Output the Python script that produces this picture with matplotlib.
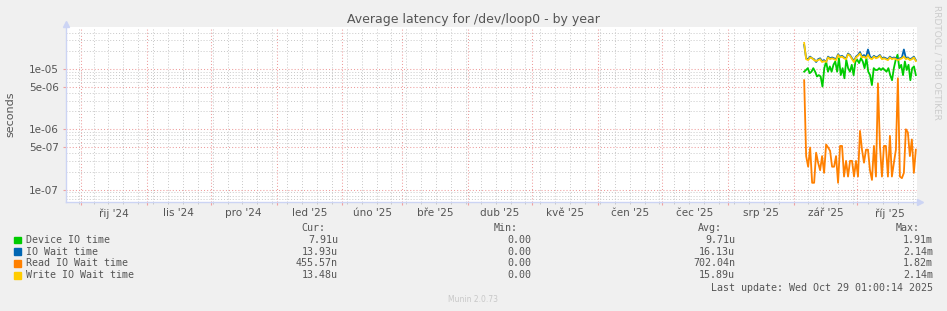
import matplotlib
matplotlib.use("Agg")
import matplotlib.pyplot as plt
import matplotlib.dates as mdates
from matplotlib.ticker import FixedLocator, NullFormatter
import numpy as np
import pandas as pd

title = "Average latency for /dev/loop0 - by year"
t_start = pd.Timestamp("2024-09-24 01:00")
t_end = pd.Timestamp("2025-10-29 01:00")
data_start = pd.Timestamp("2025-09-06")
data_end = pd.Timestamp("2025-10-28 12:00")

month_starts = ["2024-10-01", "2024-11-01", "2024-12-01", "2025-01-01", "2025-02-01",
                "2025-03-01", "2025-04-01", "2025-05-01", "2025-06-01", "2025-07-01",
                "2025-08-01", "2025-09-01", "2025-10-01", "2025-11-01"]
month_labels = ["řij '24", "lis '24", "pro '24", "led '25", "úno '25", "bře '25", "dub '25",
                "kvě '25", "čen '25", "čec '25", "srp '25", "zář '25", "říj '25"]

y_ticks = [1e-7, 5e-7, 1e-6, 5e-6, 1e-5]
y_tick_labels = ["1e-07", "5e-07", "1e-06", "5e-06", "1e-05"]

# values in microseconds
device = [9.0, 9.6, 10.3, 8.5, 9.0, 10.3, 9.0, 7.5, 7.9, 7.5, 5.1, 10.3, 13.3, 9.0, 11.0,
          9.0, 11.7, 13.3, 9.0, 15.1, 7.9, 10.3, 7.0, 14.2, 10.3, 9.0, 11.7, 7.9, 13.3,
          14.2, 12.5, 15.1, 13.3, 10.3, 15.1, 9.0, 7.9, 5.4, 10.3, 9.6, 9.6, 10.3, 9.6,
          10.3, 9.6, 9.0, 10.3, 7.9, 6.5, 10.3, 14.2, 17.2, 10.3, 11.7, 7.9, 13.3, 9.6,
          11.7, 6.5, 10.3, 11.0, 7.9]
io_wait = [25.0, 15.0, 14.5, 16.0, 15.0, 14.5, 13.0, 14.5, 15.0, 13.5, 14.0, 13.0, 16.0,
           15.0, 15.5, 15.0, 14.5, 17.5, 16.0, 16.5, 15.5, 15.0, 18.0, 17.0, 15.0, 13.5,
           16.0, 17.0, 19.0, 16.0, 17.0, 15.5, 21.0, 16.0, 15.0, 16.5, 15.5, 16.0, 17.0,
           15.0, 15.5, 15.0, 14.5, 16.0, 15.0, 15.5, 15.0, 14.5, 15.0, 15.5, 21.0, 15.0,
           15.5, 14.5, 15.0, 16.0, 14.0]
write_wait = [27.0, 14.5, 14.0, 15.5, 15.0, 14.0, 13.5, 14.0, 14.5, 13.0, 13.5, 13.0, 15.5,
              14.5, 15.0, 14.5, 14.0, 17.0, 15.5, 16.0, 15.0, 14.5, 17.5, 16.5, 14.5, 13.0,
              15.5, 16.5, 18.0, 15.5, 16.0, 15.0, 17.0, 15.0, 14.5, 16.0, 15.0, 15.5, 16.5,
              14.5, 15.0, 14.5, 14.0, 15.5, 14.5, 15.0, 14.5, 14.0, 14.5, 15.0, 16.0, 14.5,
              15.0, 14.0, 14.5, 15.5, 13.5]
read_wait = [6.5, 0.36, 0.24, 0.50, 0.13, 0.13, 0.41, 0.28, 0.21, 0.36, 0.19, 0.56, 0.50,
             0.44, 0.24, 0.24, 0.36, 0.13, 0.53, 0.53, 0.165, 0.30, 0.165, 0.30, 0.30, 0.165,
             0.30, 0.165, 0.94, 0.46, 0.28, 0.46, 0.46, 0.21, 0.145, 0.53, 0.165, 5.75, 0.53,
             0.165, 0.53, 0.53, 0.165, 0.78, 0.165, 0.28, 0.46, 7.0, 0.165, 0.155, 0.19, 1.0,
             0.89, 0.36, 0.68, 0.19, 0.46]

names = ["Device IO time", "IO Wait time", "Read IO Wait time", "Write IO Wait time"]
colors = ["#00CC00", "#0066B3", "#FF8000", "#FFCC00"]
cur_vals = ["7.91u", "13.93u", "455.57n", "13.48u"]
min_vals = ["0.00", "0.00", "0.00", "0.00"]
avg_vals = ["9.71u", "16.13u", "702.04n", "15.89u"]
max_vals = ["1.91m", "2.14m", "1.82m", "2.14m"]
last_update = "Last update: Wed Oct 29 01:00:14 2025"
version = "Munin 2.0.73"

W, H = 947, 311
fig = plt.figure(figsize=(W / 100, H / 100), dpi=100, facecolor="#F0F0F0")
ax = fig.add_axes([66 / W, 1 - 202 / H, 851 / W, 175 / H])
ax.set_facecolor("white")

series = [device, io_wait, read_wait, write_wait]
for vals, c in zip(series, colors):
    t = pd.date_range(data_start, data_end, periods=len(vals))
    ax.plot(t, np.array(vals) * 1e-6, color=c, lw=1.3, zorder=3)

ax.set_yscale("log")
ax.set_ylim(6.25e-8, 4.95e-5)
ax.set_xlim(t_start, t_end)

# y grid: red at 1 and 5, gray at the rest
ax.yaxis.set_major_locator(FixedLocator(y_ticks))
ax.set_yticklabels(y_tick_labels)
minor_y = [m * 10.0 ** e for e in range(-8, -4) for m in (2, 3, 4, 6, 7, 8, 9)]
ax.yaxis.set_minor_locator(FixedLocator(minor_y))
ax.yaxis.set_minor_formatter(NullFormatter())

# x grid: red at month starts, gray weekly
ms = pd.to_datetime(month_starts)
ax.xaxis.set_major_locator(FixedLocator(mdates.date2num(ms[:-1])))
ax.xaxis.set_major_formatter(NullFormatter())
ax.xaxis.set_minor_locator(mdates.WeekdayLocator(byweekday=mdates.MO))
ax.xaxis.set_minor_formatter(NullFormatter())
mids = ms[:-1] + (ms[1:] - ms[:-1]) / 2
for m, lab in zip(mids, month_labels):
    ax.text(m, -0.035, lab, transform=ax.get_xaxis_transform(), ha="center", va="top",
            fontsize=7.5, color="#555555")

ax.grid(which="minor", color="#c8c8c8", ls=(0, (1, 2)), lw=0.7)
ax.grid(which="major", color="#ee9c9c", ls=(0, (1, 2)), lw=0.75)
ax.set_axisbelow(True)

ax.tick_params(axis="y", which="major", length=2, color="#f0a0a0", labelsize=7.5,
               labelcolor="#555555", pad=3)
ax.tick_params(axis="y", which="minor", length=0)
ax.tick_params(axis="x", which="major", length=2, color="#f0a0a0", direction="out")
ax.tick_params(axis="x", which="minor", length=1.5, color="#c0c0c0")

for s in ("top", "right"):
    ax.spines[s].set_visible(False)
for s in ("left", "bottom"):
    ax.spines[s].set_color("#ccd4f4")
    ax.spines[s].set_linewidth(1)
ax.plot([0], [1.02], marker="^", color="#ccd4f4", ms=4, transform=ax.transAxes, clip_on=False)
ax.plot([1.004], [0], marker=">", color="#ccd4f4", ms=4, transform=ax.transAxes, clip_on=False)

fig.text(473 / W, 1 - 19 / H, title, ha="center", va="center", fontsize=9, color="#555555")
fig.text(10 / W, 1 - 114 / H, "seconds", rotation=90, ha="center", va="center",
         fontsize=8, color="#555555")
fig.text(937 / W, 1 - 5 / H, "RRDTOOL / TOBI OETIKER", rotation=270, ha="center", va="top",
         fontsize=6.5, color="#cccccc")

# legend table
mono = "DejaVu Sans Mono"
row_y = [240, 251.7, 263.3, 275.5]
col_right = [338, 531, 735, 933]
headers = ["Cur:", "Min:", "Avg:", "Max:"]
for xr, h in zip(col_right, headers):
    fig.text((xr - 13) / W, 1 - 228 / H, h, ha="right", va="center", family=mono,
             fontsize=7.2, color="#555555")
cols = [cur_vals, min_vals, avg_vals, max_vals]
for i, (nm, c) in enumerate(zip(names, colors)):
    y = 1 - row_y[i] / H
    fig.patches.append(plt.Rectangle((14 / W, y - 3.2 / H), 6.5 / W, 6.5 / H,
                                     transform=fig.transFigure, color=c, figure=fig))
    fig.text(26 / W, y, nm, ha="left", va="center", family=mono, fontsize=7.2, color="#555555")
    for xr, col in zip(col_right, cols):
        fig.text(xr / W, y, col[i], ha="right", va="center", family=mono, fontsize=7.2,
                 color="#555555")
fig.text(933 / W, 1 - 287.7 / H, last_update, ha="right", va="center", family=mono,
         fontsize=7.2, color="#555555")
fig.text(473 / W, 1 - 299.5 / H, version, ha="center", va="center", fontsize=5.5,
         color="#c8c8c8")

fig.savefig("out.png", dpi=100, facecolor=fig.get_facecolor())
